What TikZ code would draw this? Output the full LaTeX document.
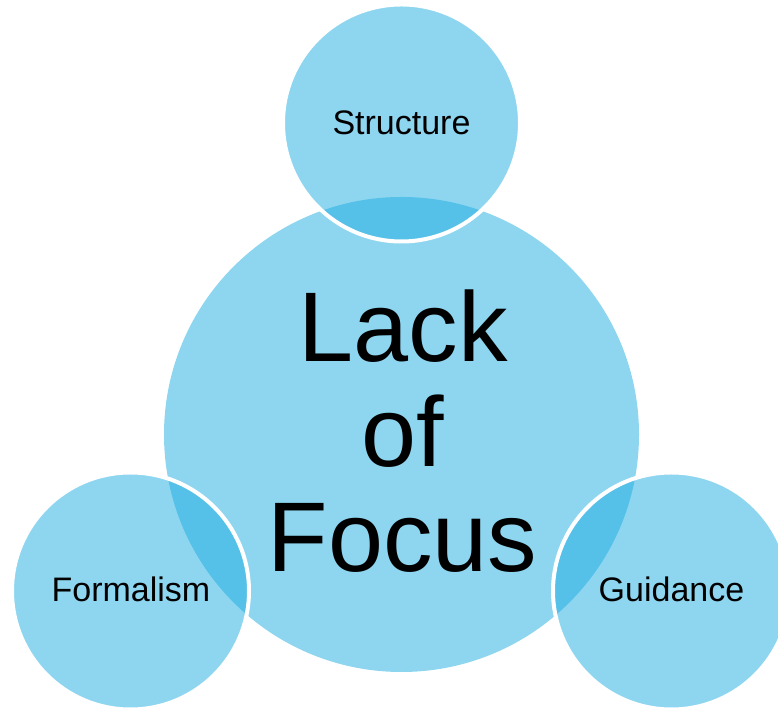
\documentclass[tikz,border=0pt]{standalone}
\usepackage{fontspec}
\setmainfont{Liberation Sans}
\definecolor{lightblue}{RGB}{142,214,240}
\definecolor{darkblue}{RGB}{85,192,232}
\begin{document}
\begin{tikzpicture}[x=1pt,y=1pt,
  ring/.style={draw=white,line width=4pt},
  lbl/.style={anchor=base,font=\fontsize{34}{40}\selectfont,text=black,inner sep=0pt},
  big/.style={anchor=base,font=\fontsize{99}{105}\selectfont,text=black,inner sep=0pt}]
\useasboundingbox (0,0) rectangle (778,708);
\coordinate (cB) at (401.5,273.5);
\coordinate (cS) at (401.5,585);
\coordinate (cF) at (130.5,117);
\coordinate (cG) at (671.5,117);
\fill[lightblue] (cB) circle (237.5);
\foreach \c in {cS,cF,cG} {
  \fill[lightblue] (\c) circle (117);
  \begin{scope}
    \clip (\c) circle (117);
    \fill[darkblue] (cB) circle (237.5);
  \end{scope}
}
\foreach \c in {cS,cF,cG} \draw[ring] (\c) circle (118.5);
\node[lbl] (structure) at (401.5,573) {Structure};
\node[lbl] (formalism) at (131,106) {Formalism};
\node[lbl] (guidance) at (671.5,106) {Guidance};
\node[big] (lack) at (403,346) {Lack};
\node[big] (of) at (402.5,241) {of};
\node[big] (focus) at (402.5,136) {Focus};
\end{tikzpicture}
\end{document}
